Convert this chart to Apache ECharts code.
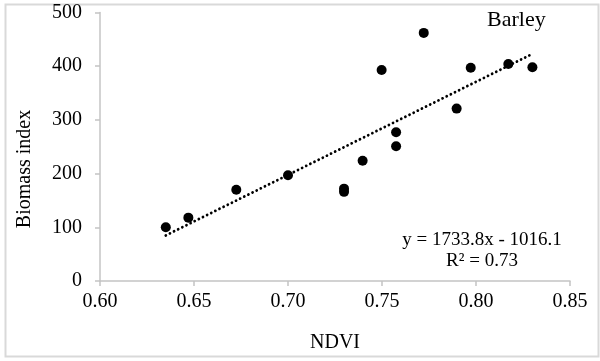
<!DOCTYPE html>
<html>
<head>
<meta charset="utf-8">
<script src="https://cdn.jsdelivr.net/npm/echarts@6/dist/echarts.min.js"></script>
<style>
html,body{margin:0;padding:0;background:#fff;}
#chart{width:600px;height:361px;}
</style>
</head>
<body>
<div id="chart"></div>
<script>
var ndvi = [0.635, 0.647, 0.6725, 0.700, 0.7298, 0.7298, 0.7397, 0.7498, 0.7575, 0.7575, 0.7722, 0.7897, 0.7972, 0.8172, 0.830];
var biomass = [100, 118, 170, 197, 172, 166, 224, 393, 277, 251, 462, 321, 397, 404, 398];
var xTicks = ['0.60', '0.65', '0.70', '0.75', '0.80', '0.85'];
var yTicks = ['0', '100', '200', '300', '400', '500'];
var trendSlope = 1733.8;
var trendIntercept = -1016.1;
var trendRange = [0.635, 0.830];
var seriesName = 'Barley';
var equationText = 'y = 1733.8x - 1016.1';
var r2Text = 'R² = 0.73';

var points = ndvi.map(function (x, i) { return [x, biomass[i]]; });
var trend = trendRange.map(function (x) { return [x, trendSlope * x + trendIntercept]; });

var font = '"Liberation Serif", "Times New Roman", serif';
var chart = echarts.init(document.getElementById('chart'), null, {renderer: 'canvas'});
chart.setOption({
  backgroundColor: '#ffffff',
  animation: false,
  grid: {left: 100, right: 30, top: 12.5, bottom: 80, containLabel: false},
  xAxis: {
    type: 'value', min: 0.60, max: 0.85, interval: 0.05,
    axisLine: {show: true, lineStyle: {color: '#c4c4c4', width: 1.5}},
    axisTick: {show: true, inside: false, length: 5, lineStyle: {color: '#c4c4c4', width: 1.5}},
    splitLine: {show: false},
    axisLabel: {margin: 11, color: '#000', fontFamily: font, fontSize: 20,
      formatter: function (v) { var s = v.toFixed(2); return xTicks.indexOf(s) >= 0 ? s : ''; }},
    name: 'NDVI', nameLocation: 'middle', nameGap: 52,
    nameTextStyle: {color: '#000', fontFamily: font, fontSize: 20}
  },
  yAxis: {
    type: 'value', min: 0, max: 500, interval: 100,
    axisLine: {show: true, lineStyle: {color: '#c4c4c4', width: 1.5}},
    axisTick: {show: true, inside: false, length: 5, lineStyle: {color: '#c4c4c4', width: 1.5}},
    splitLine: {show: false},
    axisLabel: {margin: 18, color: '#000', fontFamily: font, fontSize: 20,
      formatter: function (v) { var s = String(Math.round(v)); return yTicks.indexOf(s) >= 0 ? s : ''; }}
  },
  graphic: [
    {type: 'rect', left: 3, top: 2, shape: {width: 593, height: 352}, style: {fill: null, stroke: '#d9d9d9', lineWidth: 2}, silent: true, z: -1},
    {type: 'text', left: 487, top: 9, style: {text: seriesName, fill: '#000', font: '22px ' + font}},
    {type: 'text', x: 482, y: 240, style: {text: equationText, fill: '#000', font: '19px ' + font, align: 'center', verticalAlign: 'middle'}},
    {type: 'text', x: 482, y: 261, style: {text: r2Text, fill: '#000', font: '19px ' + font, align: 'center', verticalAlign: 'middle'}},
    {type: 'text', x: 25, y: 169, rotation: Math.PI / 2, style: {text: 'Biomass index', fill: '#000', font: '20px ' + font, align: 'center', verticalAlign: 'middle'}}
  ],
  series: [
    {
      type: 'line', data: trend, symbol: 'none', silent: true, z: 1,
      lineStyle: {color: '#000', width: 2.8, type: [0.01, 4.6], cap: 'round'}
    },
    {
      type: 'scatter', name: seriesName, data: points, symbol: 'circle', symbolSize: 10, z: 2,
      itemStyle: {color: '#000', opacity: 1}
    }
  ]
});
</script>
</body>
</html>
